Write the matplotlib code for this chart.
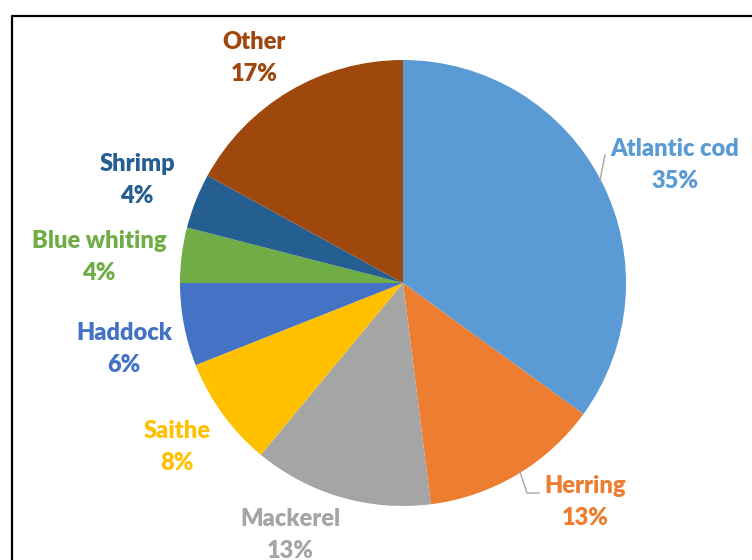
import matplotlib
matplotlib.use("Agg")
import matplotlib.pyplot as plt
from matplotlib.lines import Line2D

# data
species = ["Atlantic cod", "Herring", "Mackerel", "Saithe", "Haddock",
           "Blue whiting", "Shrimp", "Other"]
shares = [35, 13, 13, 8, 6, 4, 4, 17]
colors = ["#5B9BD5", "#ED7D31", "#A5A5A5", "#FFC000", "#4472C4",
          "#70AD47", "#255E91", "#9E480E"]

# label centres in pixels (x, y from top)
label_pos = [(675, 165), (585, 502), (290, 535), (177, 447),
             (124, 349), (99, 257), (137, 180), (254, 58)]

W, H = 752, 560
fig = plt.figure(figsize=(W / 100, H / 100), dpi=100)
ax = fig.add_axes([0, 0, 1, 1])

cx, cy, r = 403, H - 283, 223
ax.pie(shares, colors=colors, startangle=90, counterclock=False,
       center=(cx, cy), radius=r, frame=True,
       wedgeprops=dict(linewidth=0))
ax.set_xlim(0, W)
ax.set_ylim(0, H)
ax.set_aspect("equal")
ax.axis("off")

for name, val, col, (x, y) in zip(species, shares, colors, label_pos):
    ax.text(x, H - y, f"{name}\n{val}%", color=col, ha="center", va="center",
            fontsize=17, fontweight="heavy", family="Lato", linespacing=1.55)

# leader lines
ax.plot([600, 605], [H - 180, H - 155], color="#A6A6A6", lw=1)
ax.plot([520, 527, 539], [H - 472, H - 493, H - 493], color="#A6A6A6", lw=1)

# outer frame (cropped on right and bottom)
fig.add_artist(Line2D([12 / W, 12 / W, 1], [0, 1 - 16 / H, 1 - 16 / H],
                      color="black", lw=1.6, transform=fig.transFigure))

fig.savefig("out.png", dpi=100)
